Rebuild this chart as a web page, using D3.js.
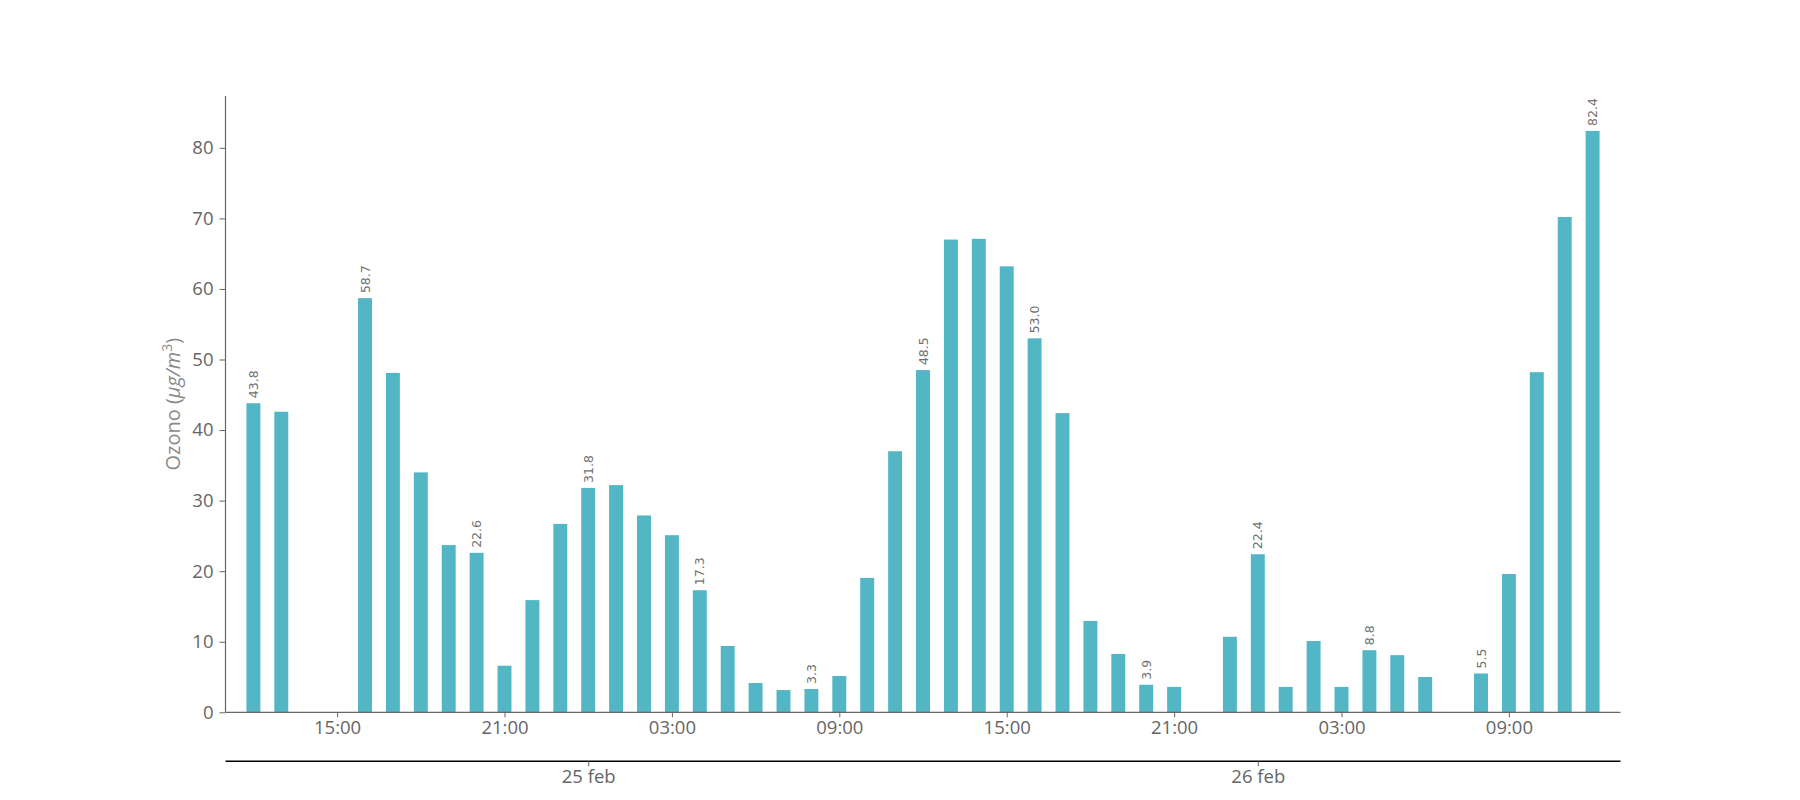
<!DOCTYPE html>
<html><head><meta charset="utf-8">
<script src="https://cdn.jsdelivr.net/npm/d3@7"></script>
<style>body{margin:0;background:#fff}</style>
</head><body>
<svg id="chart" width="1800" height="800"></svg>
<script>
// ---- data ----
const startHour = [2024, 1, 24, 12]; // 24 feb, 12:00 (first bar)
const ozone = [
  43.8, 42.6, null, null, 58.7, 48.1, 34.0, 23.7, 22.6, 6.6, 15.9, 26.7,
  31.8, 32.2, 27.9, 25.1, 17.3, 9.4, 4.15, 3.15, 3.3, 5.15, 19.05, 37.0,
  48.5, 67.0, 67.1, 63.2, 53.0, 42.4, 12.95, 8.27, 3.9, 3.6, null, 10.7,
  22.4, 3.6, 10.1, 3.6, 8.8, 8.1, 5.0, null, 5.5, 19.6, 48.2, 70.2, 82.4
];
const yTicks = [0, 10, 20, 30, 40, 50, 60, 70, 80];
const hourTickLabels = ["15:00", "21:00", "03:00", "09:00", "15:00", "21:00", "03:00", "09:00"];
const dateTickLabels = ["25 feb", "26 feb"];
const labelEvery = 4;

// ---- build ----
(function () {
const H = 3600 * 1000;
const t0 = new Date(startHour[0], startHour[1], startHour[2], startHour[3]);
const data = ozone.map((v, i) => ({ t: new Date(+t0 + i * H), v }));

const svg = d3.select("#chart");
const pL = 225.5, pR = 1620.5, pT = 96, pB = 712.3;

const x = d3.scaleTime()
  .domain([new Date(+t0 - H), new Date(+t0 + ozone.length * H)])
  .range([pL, pR]);
const yMax = d3.max(ozone) * 1.06;
const y = d3.scaleLinear().domain([0, yMax]).range([pB, pT]);

const barW = (x(new Date(+t0 + H)) - x(t0)) * 0.5;
const color = "#52b6c4";
const grey = "#666666";
const tickFont = 18.5;

svg.append("g").selectAll("rect")
  .data(data.filter(d => d.v != null))
  .join("rect")
  .attr("x", d => x(d.t) - barW / 2)
  .attr("y", d => y(d.v))
  .attr("width", barW)
  .attr("height", d => y(0) - y(d.v))
  .attr("fill", color);

// value labels
svg.append("g").selectAll("text")
  .data(data.filter((d, i) => i % labelEvery === 0 && d.v != null))
  .join("text")
  .attr("transform", d => `translate(${x(d.t) + 4.5},${y(d.v) - 5}) rotate(-90)`)
  .attr("text-anchor", "start")
  .attr("font-family", "DejaVu Sans")
  .attr("font-size", 12.5)
  .attr("fill", "#707070")
  .text(d => d.v.toFixed(1));

// y axis
const yAxis = svg.append("g").attr("transform", `translate(${pL},0)`)
  .call(d3.axisLeft(y).tickValues(yTicks).tickSize(6).tickPadding(6).tickFormat(d3.format("d")));
yAxis.select(".domain").attr("d", `M0,${pT}V${pB}`).attr("stroke", grey).attr("stroke-width", 1.2);
yAxis.selectAll(".tick line").attr("stroke", grey);
yAxis.selectAll("text").attr("font-family", "Open Sans").attr("font-size", tickFont).attr("fill", grey);

// x axis (hours)
const hourTicks = hourTickLabels.map((_, i) => new Date(+t0 + (3 + 6 * i) * H));
const xAxis = svg.append("g").attr("transform", `translate(0,${pB})`)
  .call(d3.axisBottom(x).tickValues(hourTicks).tickSize(5).tickPadding(4)
    .tickFormat((d, i) => hourTickLabels[i]));
xAxis.select(".domain").attr("d", `M${pL},0H${pR}`).attr("stroke", grey).attr("stroke-width", 1.2);
xAxis.selectAll(".tick line").attr("stroke", grey);
xAxis.selectAll("text").attr("font-family", "Open Sans").attr("font-size", tickFont).attr("fill", grey);

// date axis
const dateTicks = dateTickLabels.map((_, i) => new Date(+t0 + (12 + 24 * i) * H));
const dAxis = svg.append("g").attr("transform", `translate(0,761.3)`)
  .call(d3.axisBottom(x).tickValues(dateTicks).tickSize(5).tickPadding(4)
    .tickFormat((d, i) => dateTickLabels[i]));
dAxis.select(".domain").attr("d", `M${pL},0H${pR}`).attr("stroke", "#000").attr("stroke-width", 1.5);
dAxis.selectAll(".tick line").attr("stroke", grey);
dAxis.selectAll("text").attr("font-family", "Open Sans").attr("font-size", tickFont).attr("fill", grey);

// y label
const yl = svg.append("text")
  .attr("transform", `translate(180,${(pT + pB) / 2}) rotate(-90)`)
  .attr("text-anchor", "middle")
  .attr("font-family", "Open Sans").attr("font-size", 20).attr("fill", "#8a8a8a");
yl.append("tspan").text("Ozono (");
yl.append("tspan").attr("font-style", "italic").text("μg/m");
yl.append("tspan").attr("font-size", 14).attr("dy", -8).text("3");
yl.append("tspan").attr("dy", 8).text(")");
})();
</script>
</body></html>
